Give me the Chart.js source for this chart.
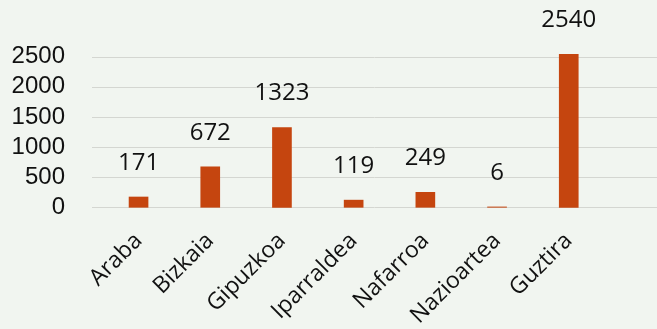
<!DOCTYPE html>
<html>
<head>
<meta charset="utf-8">
<script src="https://cdn.jsdelivr.net/npm/chart.js@4"></script>
<style>
  html, body { margin: 0; padding: 0; background: #f1f5f0; }
  #wrap { width: 657px; height: 329px; }
</style>
</head>
<body>
<div id="wrap"><canvas id="chart"></canvas></div>
<script>
const regions = ['Araba', 'Bizkaia', 'Gipuzkoa', 'Iparraldea', 'Nafarroa', 'Nazioartea', 'Guztira'];
const counts = [171, 672, 1323, 119, 249, 6, 2540];
const yTicks = [0, 500, 1000, 1500, 2000, 2500];

const labelFont = 'Open Sans';

// horizontal guide lines running the full width of the canvas
const fullGrid = {
  id: 'fullGrid',
  beforeDatasetsDraw(chart) {
    const { ctx, scales: { y } } = chart;
    ctx.save();
    ctx.strokeStyle = '#d4d6d1';
    ctx.lineWidth = 1;
    yTicks.forEach(v => {
      const py = Math.round(y.getPixelForValue(v)) + 0.5;
      ctx.beginPath();
      ctx.moveTo(92, py);
      ctx.lineTo(chart.width, py);
      ctx.stroke();
    });
    ctx.restore();
  }
};

// value above each bar
const barValues = {
  id: 'barValues',
  afterDatasetsDraw(chart) {
    const { ctx } = chart;
    const meta = chart.getDatasetMeta(0);
    ctx.save();
    ctx.fillStyle = '#111';
    ctx.font = '24px "' + labelFont + '"';
    ctx.textAlign = 'center';
    ctx.textBaseline = 'middle';
    meta.data.forEach((bar, i) => {
      ctx.fillText(String(counts[i]), bar.x, bar.y - 34);
    });
    ctx.restore();
  }
};

new Chart(document.getElementById('chart'), {
  type: 'bar',
  data: {
    labels: regions,
    datasets: [{ data: counts, backgroundColor: '#c5450f', barThickness: 19, clip: false }]
  },
  options: {
    responsive: true, maintainAspectRatio: false, animation: false,
    layout: { padding: { top: 56.7, right: 52.4, left: 0, bottom: 0 } },
    plugins: { legend: { display: false }, tooltip: { enabled: false } },
    scales: {
      x: {
        grid: { display: false }, border: { display: false },
        afterFit: s => { s.height = 121.7; },
        ticks: { color: '#111', minRotation: 45, maxRotation: 45, padding: 12,
          font: { family: labelFont, size: 23 } }
      },
      y: {
        min: 0, max: 2500,
        grid: { display: false, drawTicks: false }, border: { display: false },
        afterFit: s => { s.width = 102.7; },
        afterBuildTicks: s => { s.ticks = yTicks.map(v => ({ value: v })); },
        ticks: { color: '#111', padding: 37.7, autoSkip: false,
          callback: v => String(v),
          font: { family: 'Liberation Sans', size: 24 } }
      }
    }
  },
  plugins: [fullGrid, barValues]
});
</script>
</body>
</html>
